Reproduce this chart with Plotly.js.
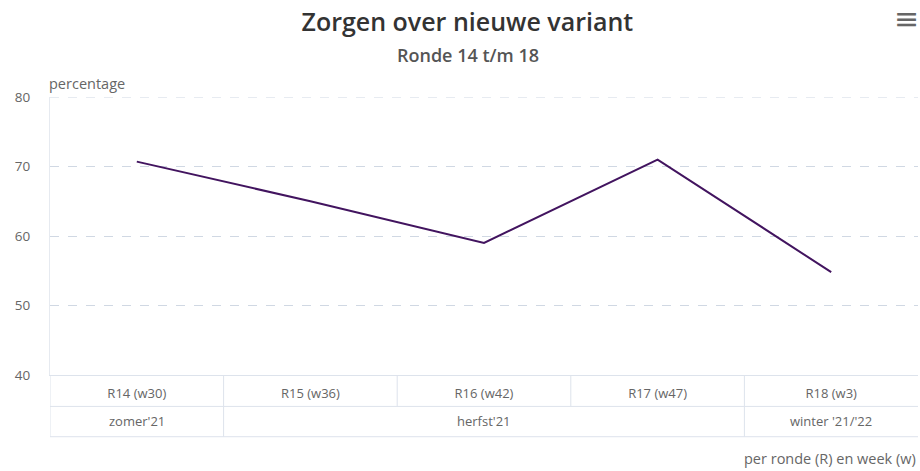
<!DOCTYPE html>
<html>
<head>
<meta charset="utf-8">
<script src="https://cdn.plot.ly/plotly-3.0.1.min.js"></script>
<style>
  html, body { margin: 0; padding: 0; background: #fff; }
  #chart { width: 920px; height: 471px; }
</style>
</head>
<body>
<div id="chart"></div>
<script>
// ---- data ----
const rounds = ["R14 (w30)", "R15 (w36)", "R16 (w42)", "R17 (w47)", "R18 (w3)"];
const seasons = ["zomer'21", "herfst'21", "winter '21/'22"];
const seasonSpan = [[0, 0], [1, 3], [4, 4]]; // first and last round index per season
const percentage = [70.7, 65.0, 59.0, 71.0, 54.8];
const yTicks = [40, 50, 60, 70, 80];

const FONT = "Open Sans, Noto Sans, sans-serif";
const tableLine = "#dde3ec";
const gridColor = "#d0d8e3";
const row1 = -0.113, row2 = -0.222;

const shapes = [];
// top gridline (Plotly hides the gridline at the range edge)
shapes.push({type: "line", xref: "paper", yref: "y", x0: 0, x1: 1,
  y0: yTicks[yTicks.length - 1], y1: yTicks[yTicks.length - 1],
  line: {color: gridColor, width: 1, dash: "dash"}, layer: "below"});
// horizontal lines of the category table
[row1, row2].forEach(y => shapes.push({
  type: "line", xref: "x", yref: "paper", x0: -0.5, x1: rounds.length - 0.5, y0: y, y1: y,
  line: {color: tableLine, width: 1}
}));
// vertical lines: round boundaries (row 1)
for (let i = 0; i < rounds.length; i++) {
  shapes.push({type: "line", xref: "x", yref: "paper", x0: i - 0.5, x1: i - 0.5, y0: 0, y1: row1,
    line: {color: tableLine, width: 1}});
}
// vertical lines: season boundaries (row 2)
seasonSpan.forEach(s => shapes.push({type: "line", xref: "x", yref: "paper",
  x0: s[0] - 0.5, x1: s[0] - 0.5, y0: row1, y1: row2, line: {color: tableLine, width: 1}}));

const annotations = seasons.map((s, k) => ({
  text: s, xref: "x", yref: "paper", x: (seasonSpan[k][0] + seasonSpan[k][1]) / 2, y: -0.167,
  showarrow: false, xanchor: "center", yanchor: "middle",
  font: {family: FONT, size: 13, color: "#666"}
}));
annotations.push(
  {text: "percentage", xref: "paper", yref: "paper", x: -0.003, y: 1.05, xanchor: "left", yanchor: "middle",
   showarrow: false, font: {family: FONT, size: 14.5, color: "#666"}},
  {text: "Ronde 14 t/m 18", xref: "paper", yref: "paper", x: 0.481, y: 1.15, xanchor: "center", yanchor: "middle",
   showarrow: false, font: {family: FONT, size: 18, color: "#555", weight: 600}},
  {text: "per ronde (R) en week (w)", xref: "paper", yref: "paper", x: 1.0, y: -0.302, xanchor: "right", yanchor: "middle",
   showarrow: false, font: {family: FONT, size: 14.5, color: "#666"}},
  {text: "≡", xref: "paper", yref: "paper", x: 0.987, y: 1.283, xanchor: "center", yanchor: "middle",
   showarrow: false, font: {family: "DejaVu Sans, sans-serif", size: 30, color: "#666"}}
);

const trace = {
  type: "scatter", mode: "lines", x: rounds, y: percentage,
  line: {color: "#42145f", width: 2}, hoverinfo: "x+y", showlegend: false
};

const layout = {
  width: 920, height: 471,
  margin: {l: 50, r: 2, t: 97, b: 96},
  paper_bgcolor: "#fff", plot_bgcolor: "#fff",
  font: {family: FONT, color: "#666"},
  title: {text: "Zorgen over nieuwe variant", x: 0.508, xanchor: "center", y: 0.953, yanchor: "middle",
          font: {family: FONT, size: 25, color: "#333", weight: 600}},
  xaxis: {type: "category", range: [-0.5, rounds.length - 0.5], showgrid: false, zeroline: false,
          showline: true, linecolor: tableLine, linewidth: 1, ticks: "", fixedrange: true,
          tickfont: {family: FONT, size: 13, color: "#666"}, ticklabelstandoff: 6},
  yaxis: {range: [40, 80], tickvals: yTicks, showgrid: true, gridcolor: gridColor, griddash: "dash",
          zeroline: false, showline: true, linecolor: "#e6eaf0", linewidth: 1, ticks: "",
          tickfont: {family: FONT, size: 13.5, color: "#666"}, ticklabelstandoff: 16, fixedrange: true},
  shapes: shapes,
  annotations: annotations
};

Plotly.newPlot("chart", [trace], layout, {displayModeBar: false, staticPlot: false});
</script>
</body>
</html>
